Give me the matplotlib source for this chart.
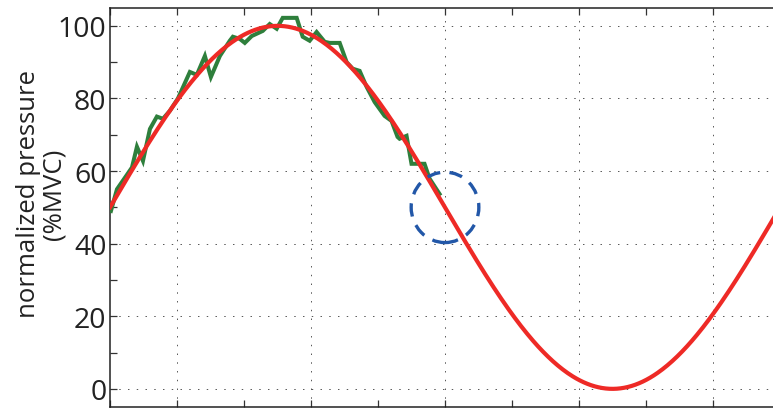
import numpy as np
import matplotlib.pyplot as plt
from matplotlib.patches import Ellipse
from matplotlib.ticker import MultipleLocator, NullFormatter

# target force profile: 0.2 Hz sine around 50 %MVC
TARGET_PERIOD_S = 5.0
TARGET_MEAN = 50.0
TARGET_AMP = 50.0

# recorded pressure, sampled up to the point where the trace stops
time_s = [0.007, 0.052, 0.127, 0.164, 0.201, 0.246, 0.298, 0.350, 0.395, 0.447,
          0.507, 0.596, 0.648, 0.708, 0.753, 0.820, 0.894, 0.917, 0.969, 1.006,
          1.058, 1.140, 1.192, 1.244, 1.289, 1.393, 1.438, 1.490, 1.542, 1.602,
          1.639, 1.714, 1.766, 1.811, 1.863, 1.915, 1.975, 2.049, 2.101, 2.146,
          2.161, 2.213, 2.250, 2.347, 2.385, 2.459]
pressure = [49.0, 55.0, 59.0, 61.0, 66.7, 62.8, 71.6, 75.0, 74.4, 76.6,
            80.0, 87.3, 86.5, 91.7, 85.9, 91.7, 95.9, 97.0, 96.4, 95.3,
            97.2, 98.6, 100.5, 99.2, 102.2, 102.2, 97.0, 95.9, 98.3, 95.6,
            95.3, 95.3, 90.0, 88.2, 87.6, 83.2, 79.0, 75.2, 73.8, 69.4,
            68.9, 69.7, 62.0, 62.0, 57.9, 53.7]

# highlighted spot on the target curve
mark_t = 2.5
mark_y = 50.0

yticks = [0, 20, 40, 60, 80, 100]

fig = plt.figure(figsize=(7.73, 4.10), dpi=100)
ax = fig.add_axes([110 / 773, 2 / 410, 737 / 773, 399.3 / 410])

t = np.linspace(0, 5.5, 600)
target = TARGET_MEAN + TARGET_AMP * np.sin(2 * np.pi * t / TARGET_PERIOD_S)

ax.plot(time_s, pressure, color='#2e7f3c', lw=2.9, solid_joinstyle='miter', zorder=3)
ax.plot(t, target, color='#ee2a26', lw=3.0, zorder=4)

circ = Ellipse((mark_t, mark_y), width=0.505, height=19.4, fill=False,
               edgecolor='#2257a8', lw=2.4, linestyle=(0, (4, 2.8)), zorder=5)
ax.add_patch(circ)

ax.set_xlim(0, 5.5)
ax.set_ylim(-5, 105)

ax.set_xticks(np.arange(0.5, 5.6, 1.0))
ax.xaxis.set_minor_locator(MultipleLocator(1.0))
ax.xaxis.set_major_formatter(NullFormatter())
ax.set_yticks(yticks)
ax.yaxis.set_minor_locator(MultipleLocator(10))

ax.tick_params(which='both', direction='in', length=5, width=0.9,
               color='#333333', top=True, right=True)
ax.tick_params(axis='y', labelsize=20.5, pad=2.5, labelcolor='#222222')
for lab in ax.get_yticklabels():
    lab.set_family('Open Sans')

ax.grid(True, which='major', color='#555555', lw=0.7, linestyle=(0, (1.5, 7.5)))
for sp in ax.spines.values():
    sp.set_linewidth(1.1)
    sp.set_color('#222222')

fig.text(41 / 773, 1 - 194 / 410, 'normalized pressure\n(%MVC)', rotation=90,
         ha='center', va='center', fontsize=18.5, family='Open Sans',
         color='#222222', linespacing=1.05, multialignment='center')

fig.savefig('out.png', dpi=100)
